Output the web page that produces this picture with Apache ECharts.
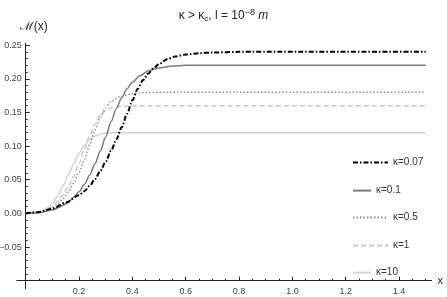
<!DOCTYPE html>
<html><head><meta charset="utf-8">
<script src="https://cdn.jsdelivr.net/npm/echarts@6/dist/echarts.min.js"></script>
<style>html,body{margin:0;padding:0;background:#fff}#c{width:447px;height:297px}</style>
</head><body><div id="c"></div>
<script>
// ---- data ----
const seriesNames = ['κ=0.07', 'κ=0.1', 'κ=0.5', 'κ=1', 'κ=10'];
const k007 = [[0,0],[0.05,0.002],[0.1,0.007],[0.15,0.016],[0.2,0.027],[0.22,0.033],[0.24,0.041],[0.26,0.051],[0.28,0.063],[0.3,0.077],[0.32,0.093],[0.34,0.11],[0.36,0.128],[0.38,0.148],[0.4,0.168],[0.42,0.185],[0.44,0.198],[0.46,0.208],[0.48,0.216],[0.5,0.222],[0.53,0.229],[0.56,0.233],[0.6,0.236],[0.65,0.238],[0.7,0.239],[0.8,0.24],[1.5,0.24]];
const k01 = [[0,0],[0.05,0.001],[0.1,0.005],[0.12,0.008],[0.14,0.012],[0.16,0.017],[0.18,0.024],[0.2,0.032],[0.22,0.043],[0.24,0.057],[0.26,0.074],[0.28,0.093],[0.3,0.114],[0.32,0.136],[0.34,0.156],[0.36,0.172],[0.38,0.185],[0.4,0.195],[0.43,0.205],[0.46,0.212],[0.5,0.216],[0.55,0.219],[0.6,0.22],[1.5,0.22]];
const k05 = [[0,0],[0.05,0.001],[0.1,0.008],[0.12,0.014],[0.14,0.022],[0.16,0.032],[0.18,0.045],[0.2,0.061],[0.22,0.08],[0.24,0.102],[0.26,0.124],[0.28,0.143],[0.3,0.157],[0.32,0.166],[0.35,0.173],[0.4,0.178],[0.45,0.1795],[0.5,0.18],[1.5,0.18]];
const k1 = [[0,0],[0.05,0.001],[0.1,0.01],[0.12,0.018],[0.14,0.028],[0.16,0.04],[0.18,0.055],[0.2,0.074],[0.22,0.095],[0.24,0.116],[0.26,0.133],[0.28,0.146],[0.3,0.153],[0.33,0.158],[0.38,0.1595],[0.45,0.16],[1.5,0.16]];
const k10 = [[0,0],[0.05,0.002],[0.08,0.008],[0.1,0.015],[0.12,0.026],[0.14,0.041],[0.16,0.057],[0.18,0.074],[0.2,0.089],[0.22,0.101],[0.24,0.11],[0.26,0.115],[0.28,0.118],[0.3,0.1193],[0.35,0.12],[1.5,0.12]];
const xTicks = [0.2, 0.4, 0.6, 0.8, 1.0, 1.2, 1.4];
const xMinorTicks = [0.05,0.1,0.15,0.25,0.3,0.35,0.45,0.5,0.55,0.65,0.7,0.75,0.85,0.9,0.95,1.05,1.1,1.15,1.25,1.3,1.35,1.45,1.5];
const yTicks = [-0.05, 0, 0.05, 0.10, 0.15, 0.20, 0.25];
const yMinorTicks = [-0.09,-0.08,-0.07,-0.06,-0.04,-0.03,-0.02,-0.01,0.01,0.02,0.03,0.04,0.06,0.07,0.08,0.09,0.11,0.12,0.13,0.14,0.16,0.17,0.18,0.19,0.21,0.22,0.23,0.24];
const xRange = [-0.033, 1.522];
const yRange = [-0.112, 0.253];
const xAxisAt = -0.1;   // y value where the x axis crosses
const yAxisAt = 0;      // x value where the y axis crosses

// ---- layout ----
const gridTop = 43.1, gridBottom = 8.2, gridLeft = 16.9, gridRight = 15.4;
const gridH = 297 - gridTop - gridBottom;
const gridW = 447 - gridLeft - gridRight;
const xOffset = -gridH * (xAxisAt - yRange[0]) / (yRange[1] - yRange[0]);
const yOffset = -gridW * (yAxisAt - xRange[0]) / (xRange[1] - xRange[0]);
const FONT = 'Liberation Sans, Arial, sans-serif';
const axisColor = '#222';
const labelColor = '#444';

const styles = [
  {color: '#000000', width: 2, type: [5, 2, 1.5, 2]},
  {color: '#7a7a7a', width: 1.5, type: 'solid'},
  {color: '#8c8c8c', width: 1.4, type: [1.5, 2]},
  {color: '#c8c8c8', width: 1.5, type: [5, 3]},
  {color: '#d4d4d4', width: 1.5, type: 'solid'}
];
const datas = [k007, k01, k05, k1, k10];
const legendTops = [159, 187, 214, 242, 269];
const legendWidths = [35, 18, 35, 35, 18];

const chart = echarts.init(document.getElementById('c'), null, {renderer: 'canvas'});

const series = seriesNames.map((n, i) => ({
  name: n, type: 'line', data: datas[i], symbol: 'none', showSymbol: false,
  smooth: 0.3, smoothMonotone: 'x', lineStyle: styles[i], itemStyle: {color: styles[i].color},
  xAxisIndex: 0, yAxisIndex: 0, z: 10 - i, animation: false
}));

const legends = seriesNames.map((n, i) => ({
  data: [n], left: 347, top: legendTops[i] - 7, orient: 'vertical',
  itemWidth: legendWidths[i], itemHeight: 14, itemGap: 0,
  itemStyle: {opacity: 0},
  textStyle: {fontFamily: FONT, fontSize: 10, color: '#333'},
  selectedMode: false
}));

const baseX = {
  type: 'value', min: xRange[0], max: xRange[1], position: 'bottom', offset: xOffset,
  splitLine: {show: false}
};
const baseY = {
  type: 'value', min: yRange[0], max: yRange[1], position: 'left', offset: yOffset,
  splitLine: {show: false}
};

chart.setOption({
  animation: false,
  backgroundColor: '#fff',
  title: {
    text: '{n|κ > κ}{s|c}{n|, l = 10}{sup|−8}{i| m}',
    left: 'center', top: 3,
    textStyle: {
      fontWeight: 'normal',
      rich: {
        n: {fontFamily: FONT, fontSize: 12, color: '#222', fontWeight: 'normal'},
        s: {fontFamily: FONT, fontSize: 8, color: '#222', fontWeight: 'normal', padding: [6, 0, 0, 0]},
        sup: {fontFamily: FONT, fontSize: 9, color: '#222', fontWeight: 'normal', padding: [0, 0, 7, 0]},
        i: {fontFamily: FONT, fontSize: 12, color: '#222', fontWeight: 'normal', fontStyle: 'italic'}
      }
    }
  },
  legend: legends,
  grid: {left: gridLeft, right: gridRight, top: gridTop, bottom: gridBottom, containLabel: false, outerBoundsMode: 'none'},
  xAxis: [
    Object.assign({}, baseX, {
      name: 'x', nameLocation: 'end', nameGap: 6,
      nameTextStyle: {fontFamily: FONT, fontSize: 11, color: '#222', verticalAlign: 'middle'},
      axisLine: {show: true, onZero: false, lineStyle: {color: axisColor, width: 1}},
      axisTick: {show: true, inside: true, length: 4, customValues: xTicks, lineStyle: {color: axisColor}},
      axisLabel: {show: true, customValues: xTicks, margin: 6, fontFamily: FONT, fontSize: 9, color: labelColor,
        formatter: v => v.toFixed(1)}
    }),
    Object.assign({}, baseX, {
      axisLine: {show: false, onZero: false},
      axisTick: {show: true, inside: true, length: 2, customValues: xMinorTicks, lineStyle: {color: axisColor}},
      axisLabel: {show: false}
    })
  ],
  yAxis: [
    Object.assign({}, baseY, {
      name: 'ℳ(x)', nameLocation: 'end', nameGap: 10,
      nameTextStyle: {fontFamily: FONT, fontSize: 12, color: '#222', align: 'left', padding: [0, 0, 0, -6]},
      axisLine: {show: true, onZero: false, lineStyle: {color: axisColor, width: 1}},
      axisTick: {show: true, inside: true, length: 4, customValues: yTicks, lineStyle: {color: axisColor}},
      axisLabel: {show: true, customValues: yTicks, margin: 4, fontFamily: FONT, fontSize: 9, color: labelColor,
        formatter: v => (v < 0 ? '−' + Math.abs(v).toFixed(2) : v.toFixed(2))}
    }),
    Object.assign({}, baseY, {
      axisLine: {show: false, onZero: false},
      axisTick: {show: true, inside: true, length: 2, customValues: yMinorTicks, lineStyle: {color: axisColor}},
      axisLabel: {show: false}
    })
  ],
  series: series
});
</script></body></html>
